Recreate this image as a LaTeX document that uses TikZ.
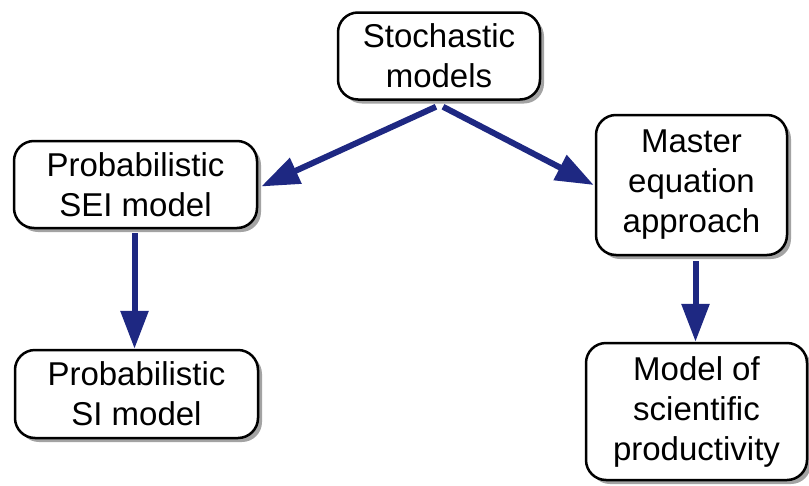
\documentclass[tikz,border=0pt]{standalone}
\usepackage{fontspec}
\setmainfont{Liberation Sans}
\usetikzlibrary{arrows.meta,shadows}
\definecolor{navy}{RGB}{30,40,130}

\begin{document}
\begin{tikzpicture}[x=1pt,y=-1pt,
  box/.style={draw, line width=2.5pt, rounded corners=20pt, fill=white,
    align=center, inner sep=0pt,
    font=\fontsize{33}{40}\selectfont,
    drop shadow={shadow xshift=4pt, shadow yshift=-4pt, fill=black!45, opacity=0.8}},
  link/.style={draw=navy, line width=6pt, -{Triangle[length=38pt,width=27pt]}}]
\useasboundingbox (0,0) rectangle (809,485);
\node[box, minimum width=202pt, minimum height=87pt] (stoch) at (439,56) {Stochastic\\models};
\node[box, minimum width=243pt, minimum height=87pt] (sei) at (135.5,184.5) {Probabilistic\\SEI model};
\node[box, minimum width=191pt, minimum height=140pt] (master) at (691.5,185) {Master\\equation\\approach};
\node[box, minimum width=243pt, minimum height=88pt] (si) at (136.5,394) {Probabilistic\\SI model};
\node[box, minimum width=221pt, minimum height=137pt] (model) at (696.5,411.5) {Model of\\scientific\\productivity};
\draw[link] ([xshift=-3pt,yshift=-6pt]stoch.south) -- ([xshift=3pt,yshift=-2pt]sei.east);
\draw[link] ([xshift=4pt,yshift=-6pt]stoch.south) -- ([xshift=-1pt]master.west);
\draw[link] ([xshift=-1pt,yshift=-4pt]sei.south) -- ([xshift=-1pt]sei.south |- si.north);
\draw[link] ([xshift=4pt,yshift=-5pt]master.south) -- ([xshift=4pt]master.south |- model.north);
\end{tikzpicture}
\end{document}
